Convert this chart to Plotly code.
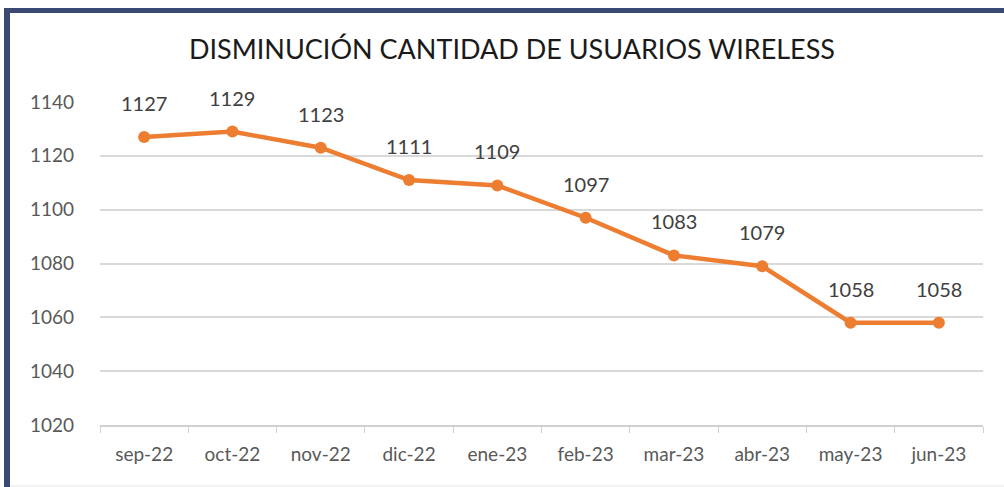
import plotly.graph_objects as go

meses = ["sep-22", "oct-22", "nov-22", "dic-22", "ene-23",
         "feb-23", "mar-23", "abr-23", "may-23", "jun-23"]
usuarios = [1127, 1129, 1123, 1111, 1109, 1097, 1083, 1079, 1058, 1058]
y_ticks = [1020, 1040, 1060, 1080, 1100, 1120, 1140]

W, H = 1004, 487
L, R, T, B = 100, 21, 102, 62
pw, ph = W - L - R, H - T - B


def px_x(p):
    return (p - L) / pw


def px_y(p):
    return (H - B - p) / ph


NAVY = "#3A4A72"
FONT = "Lato, 'Liberation Sans', sans-serif"

fig = go.Figure()
fig.add_trace(go.Scatter(
    x=meses, y=usuarios, mode="lines+markers",
    line=dict(color="#ED7D31", width=4.5),
    marker=dict(color="#ED7D31", size=12),
    hoverinfo="skip", showlegend=False,
))

for m, v in zip(meses, usuarios):
    fig.add_annotation(x=m, y=v, text=str(v), showarrow=False,
                       yshift=34, font=dict(family=FONT, size=20, color="#404040"))

fig.update_layout(
    width=W, height=H,
    margin=dict(l=L, r=R, t=T, b=B, autoexpand=False),
    paper_bgcolor="white", plot_bgcolor="white",
    title=dict(text="DISMINUCIÓN CANTIDAD DE USUARIOS WIRELESS",
               x=px_x(512), xref="paper", xanchor="center", y=1 - 50 / H, yanchor="middle",
               font=dict(family=FONT, size=27, color="#1a1a1a")),
    xaxis=dict(range=[-0.5, len(meses) - 0.5], autorange=False,
               showgrid=False, showline=True, linecolor="#D0D0D0", linewidth=1.5,
               ticks="outside", tickson="boundaries", ticklen=6, tickcolor="#D0D0D0",
               ticklabelstandoff=11, automargin=False,
               tickfont=dict(family=FONT, size=19, color="#595959"), zeroline=False),
    yaxis=dict(range=[1020, 1140], autorange=False, tickvals=y_ticks, showgrid=True,
               gridcolor="#D9D9D9", gridwidth=1.5, zeroline=False, showline=False,
               ticks="", ticklabelstandoff=25, automargin=False,
               tickfont=dict(family=FONT, size=19, color="#595959")),
    shapes=[
        dict(type="rect", xref="paper", yref="paper",
             x0=px_x(4), x1=px_x(W + 5), y0=px_y(13), y1=px_y(8),
             fillcolor=NAVY, line_width=0, layer="above"),
        dict(type="rect", xref="paper", yref="paper",
             x0=px_x(4), x1=px_x(10), y0=px_y(H + 5), y1=px_y(8),
             fillcolor=NAVY, line_width=0, layer="above"),
        dict(type="line", xref="paper", yref="paper",
             x0=px_x(10), x1=px_x(W), y0=px_y(486), y1=px_y(486),
             line=dict(color="#E6E6E6", width=1)),
    ],
)

fig.write_html("out.html")
